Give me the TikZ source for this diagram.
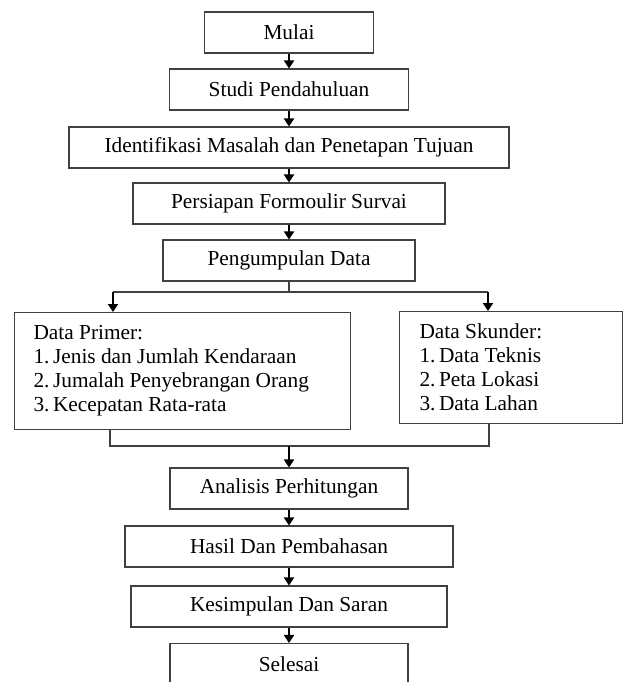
\documentclass[tikz,border=0pt]{standalone}
\usepackage{fontspec}
\setmainfont{Liberation Serif}
\usetikzlibrary{arrows.meta, positioning}

\begin{document}
\begin{tikzpicture}[x=0.75pt, y=-0.75pt, font=\fontsize{16}{18}\selectfont,
    box/.style={draw=black!75, line width=0.8pt, minimum height=30.75pt, inner sep=0pt},
    listbox/.style={box, align=flush left, anchor=north west},
    link/.style={draw=black!75, line width=0.8pt},
    flow/.style={-{Triangle[length=6pt, width=7.5pt]}, line width=1.4pt}]
        \clip (0,0) rectangle (623,682);
        % main column
        \node[box, minimum width=126.75pt] (mulai) at (289,32.5) {Mulai};
        \node[box, minimum width=179.25pt] (studi) at (289,89.5) {Studi Pendahuluan};
        \node[box, minimum width=330pt] (ident) at (289,147.5) {Identifikasi Masalah dan Penetapan Tujuan};
        \node[box, minimum width=234pt] (siap) at (289,203.5) {Persiapan Formoulir Survai};
        \node[box, minimum width=189pt] (kumpul) at (289,260.5) {Pengumpulan Data};
        % data boxes
        \node[listbox, minimum height=87.75pt, inner xsep=14.25pt, text width=223.5pt] (primer) at (14,312)
            {Data Primer:\\1.\,Jenis dan Jumlah Kendaraan\\2.\,Jumalah Penyebrangan Orang\\3.\,Kecepatan Rata-rata};
        \node[listbox, minimum height=84pt, inner xsep=15pt, text width=137.25pt] (skunder) at (399,311)
            {Data Skunder:\\1.\,Data Teknis\\2.\,Peta Lokasi\\3.\,Data Lahan};
        \node[box, minimum width=178.5pt] (analisis) at (289,488.5) {Analisis Perhitungan};
        \node[box, minimum width=246pt] (hasil) at (289,546.5) {Hasil Dan Pembahasan};
        \node[box, minimum width=237pt] (simpul) at (289,606.5) {Kesimpulan Dan Saran};
        \node[box, minimum width=178.5pt] (selesai) at (289,664) {Selesai};
        % arrows
        \draw[flow] (mulai) -- (studi);
        \draw[flow] (studi) -- (ident);
        \draw[flow] (ident) -- (siap);
        \draw[flow] (siap) -- (kumpul);
        \coordinate (splitL) at (113,292);
        \coordinate (splitR) at (488,292);
        \draw[link] (kumpul.south) -- (kumpul.south |- splitL);
        \draw[link] (splitL) -- (splitR);
        \draw[flow] (splitL) -- (splitL |- primer.north);
        \draw[flow] (splitR) -- (splitR |- skunder.north);
        \coordinate (mergeL) at (110,446);
        \coordinate (mergeR) at (489,446);
        \draw[link] (primer.south -| mergeL) -- (mergeL) -- (mergeR) -- (skunder.south -| mergeR);
        \draw[flow] (analisis.north |- mergeL) -- (analisis);
        \draw[flow] (analisis) -- (hasil);
        \draw[flow] (hasil) -- (simpul);
        \draw[flow] (simpul) -- (selesai);
    \end{tikzpicture}
\end{document}
